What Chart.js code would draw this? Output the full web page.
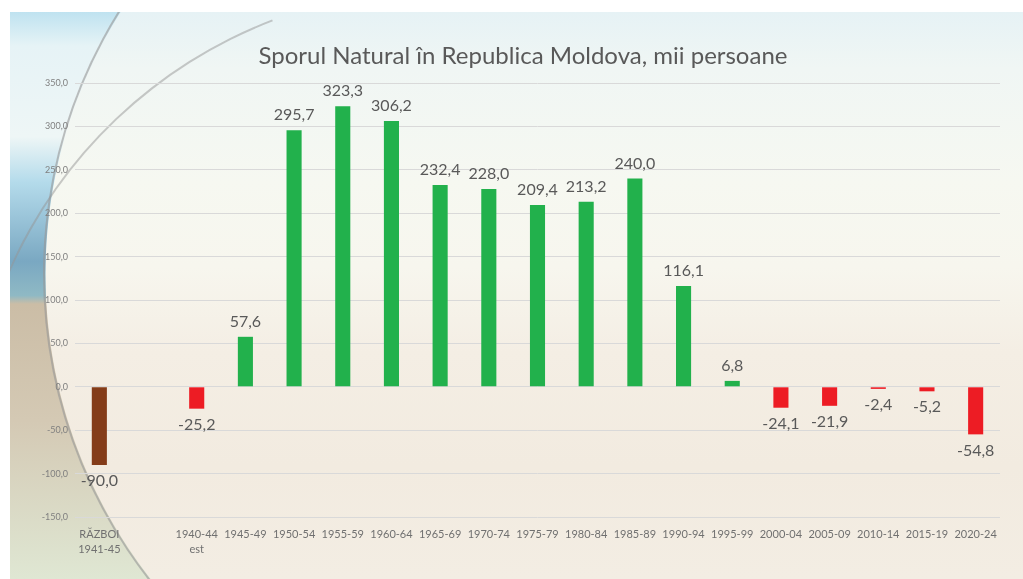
<!DOCTYPE html>
<html>
<head>
<meta charset="utf-8">
<script src="https://cdn.jsdelivr.net/npm/chart.js"></script>
<style>
  html, body { margin: 0; padding: 0; background: #ffffff; overflow: hidden; }
  #panel {
    position: absolute; left: 10px; top: 12px; width: 1013px; height: 567px; overflow: hidden;
    background: linear-gradient(180deg, #e6f2f5 0%, #f0f6f4 10%, #f6f8f1 30%, #f7f6ee 45%, #f4eee4 60%, #f2ebe0 80%, #f3ede3 100%);
  }
  #strip {
    position: absolute; left: 0; top: 0; width: 300px; height: 100%;
    background: linear-gradient(180deg, #bfe2f0 0%, #e6f3f6 6%, #eef6f6 22%, #b4dbeb 30%, #7aa8c2 44%, #8fb9c4 50%, #cbbda6 51.5%, #d4c9b4 72%, #dfe7d3 100%);
    -webkit-mask-image: radial-gradient(circle 495px at 530px 262px, transparent 494px, black 495px);
    mask-image: radial-gradient(circle 495px at 530px 262px, transparent 494px, black 495px);
  }
  #arc1 {
    position: absolute; left: 33px; top: -235px; width: 990px; height: 990px; border-radius: 50%;
    border: 2px solid transparent;
    border-left-color: rgba(150,150,150,0.6);
  }
  #arc2 {
    position: absolute; left: -42px; top: -24px; width: 944px; height: 944px; border-radius: 50%;
    border: 2px solid transparent;
    border-left-color: rgba(150,150,150,0.5);
    transform: rotate(24deg);
  }
  #wrap { position: absolute; left: 0; top: 0; width: 1023px; height: 579px; }
</style>
</head>
<body>
<div id="panel"><div id="strip"></div><div id="arc1"></div><div id="arc2"></div></div>
<div id="wrap"><canvas id="myChart"></canvas></div>
<script>
var chartTitle = 'Sporul Natural în Republica Moldova, mii persoane';
var labels = [['RĂZBOI', '1941-45'], '', ['1940-44', 'est'], '1945-49', '1950-54', '1955-59', '1960-64',
  '1965-69', '1970-74', '1975-79', '1980-84', '1985-89', '1990-94', '1995-99', '2000-04',
  '2005-09', '2010-14', '2015-19', '2020-24'];
var values = [-90.0, null, -25.2, 57.6, 295.7, 323.3, 306.2, 232.4, 228.0, 209.4, 213.2, 240.0,
  116.1, 6.8, -24.1, -21.9, -2.4, -5.2, -54.8];
var yTicks = [-150, -100, -50, 0, 50, 100, 150, 200, 250, 300, 350];

function fmt(v) {
  return v.toFixed(1).replace('.', ',');
}

var barColors = values.map(function (v, i) {
  if (i === 0) return '#843c19';
  return v >= 0 ? '#22b14c' : '#ed1c24';
});

// value labels above / below each bar
var valueLabels = {
  id: 'valueLabels',
  afterDatasetsDraw: function (chart) {
    var ctx = chart.ctx;
    var meta = chart.getDatasetMeta(0);
    ctx.save();
    ctx.font = '16px Lato';
    ctx.fillStyle = '#595959';
    ctx.textAlign = 'center';
    ctx.textBaseline = 'middle';
    meta.data.forEach(function (bar, i) {
      var v = values[i];
      if (v === null) return;
      var y = v >= 0 ? bar.y - 15 : bar.y + 16;
      ctx.fillText(fmt(v), bar.x, y);
    });
    ctx.restore();
  }
};

// title drawn by hand so it can sit off-centre like the original
var titleText = {
  id: 'titleText',
  afterDraw: function (chart) {
    var ctx = chart.ctx;
    ctx.save();
    ctx.font = '24px Lato';
    ctx.fillStyle = '#595959';
    ctx.textAlign = 'center';
    ctx.textBaseline = 'middle';
    ctx.fillText(chartTitle, 523, 56);
    ctx.restore();
  }
};

var ctx = document.getElementById('myChart').getContext('2d');
var myChart = new Chart(ctx, {
  type: 'bar',
  data: {
    labels: labels,
    datasets: [{
      data: values,
      backgroundColor: barColors,
      barPercentage: 0.31,
      categoryPercentage: 1,
    }],
  },
  options: {
    responsive: true,
    maintainAspectRatio: false,
    animation: false,
    layout: {
      padding: { left: 0, right: 23, top: 83, bottom: 0 },
    },
    plugins: {
      tooltip: { enabled: false },
      legend: { display: false },
      title: { display: false },
    },
    scales: {
      x: {
        grid: { display: false },
        border: { display: false },
        ticks: {
          color: '#707070',
          font: { size: 11, family: 'Lato', lineHeight: 1.35 },
          padding: 2,
          maxRotation: 0,
          autoSkip: false,
        },
        afterFit: function (scale) { scale.height = 62; },
      },
      y: {
        min: -150,
        max: 350,
        afterBuildTicks: function (scale) {
          scale.ticks = yTicks.map(function (v) { return { value: v }; });
        },
        grid: { color: '#d9d9d9', lineWidth: 1, drawTicks: false },
        border: { display: false },
        ticks: {
          color: '#7f7f7f',
          font: { size: 9, family: 'Lato' },
          padding: 7,
          callback: function (v) { return fmt(v); },
        },
        afterFit: function (scale) { scale.width = 75; },
      },
    },
  },
  plugins: [valueLabels, titleText],
});
</script>
</body>
</html>
